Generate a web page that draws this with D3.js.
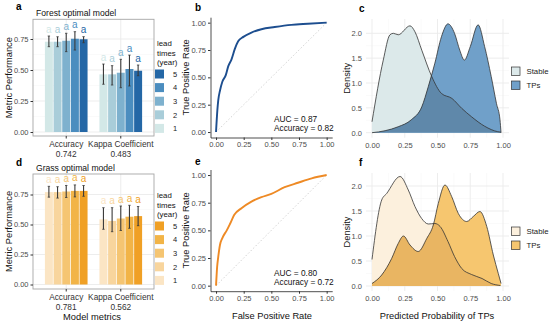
<!DOCTYPE html>
<html>
<head>
<meta charset="utf-8">
<script src="https://cdn.jsdelivr.net/npm/d3@7"></script>
<style>
  body { margin: 0; background: #fff; }
  text { font-family: "Liberation Sans", Arial, sans-serif; }
</style>
</head>
<body>
<div id="chart"></div>
<script>
// ---- data ----
var metrics = ["Accuracy", "Kappa Coefficient"];
var leadTimes = ["1", "2", "3", "4", "5"];

var forestAccMean = [0.728, 0.728, 0.736, 0.752, 0.748];
var forestAccLow = [0.688, 0.688, 0.648, 0.661, 0.720];
var forestAccHigh = [0.774, 0.768, 0.796, 0.809, 0.769];
var forestKappaMean = [0.465, 0.465, 0.478, 0.508, 0.494];
var forestKappaLow = [0.385, 0.379, 0.357, 0.371, 0.454];
var forestKappaHigh = [0.548, 0.535, 0.586, 0.620, 0.540];
var forestOverall = ["0.742", "0.483"];

var grassAccMean = [0.770, 0.770, 0.775, 0.780, 0.780];
var grassAccLow = [0.728, 0.720, 0.725, 0.730, 0.735];
var grassAccHigh = [0.818, 0.815, 0.825, 0.830, 0.825];
var grassKappaMean = [0.543, 0.530, 0.550, 0.565, 0.570];
var grassKappaLow = [0.460, 0.440, 0.450, 0.468, 0.490];
var grassKappaHigh = [0.640, 0.640, 0.654, 0.660, 0.650];
var grassOverall = ["0.781", "0.562"];

var groupLetters = ["a", "a", "a", "a", "a"];

var rocForestFpr = [0, 0.012, 0.02, 0.036, 0.057, 0.088, 0.11, 0.14, 0.17, 0.20, 0.247, 0.32, 0.41, 0.53, 0.68, 0.83, 1.0];
var rocForestTpr = [0, 0.20, 0.29, 0.38, 0.46, 0.52, 0.60, 0.665, 0.76, 0.83, 0.87, 0.91, 0.94, 0.96, 0.98, 0.99, 1.0];
var rocGrassFpr = [0, 0.01, 0.02, 0.036, 0.057, 0.097, 0.127, 0.165, 0.23, 0.32, 0.41, 0.50, 0.62, 0.74, 0.865, 1.0];
var rocGrassTpr = [0, 0.17, 0.26, 0.37, 0.43, 0.50, 0.56, 0.64, 0.70, 0.76, 0.80, 0.83, 0.89, 0.93, 0.97, 1.0];

var forestStableX = [0.0, 0.086, 0.137, 0.163, 0.20, 0.29, 0.328, 0.38, 0.456, 0.53, 0.61, 0.685, 0.76, 0.86, 0.96, 0.985];
var forestStableY = [0.22, 1.46, 1.97, 2.0, 1.97, 2.15, 2.03, 1.66, 1.13, 0.79, 0.69, 0.49, 0.32, 0.13, 0.02, 0.01];
var forestTpX = [0.0, 0.10, 0.20, 0.30, 0.38, 0.43, 0.48, 0.53, 0.58, 0.63, 0.67, 0.705, 0.75, 0.81, 0.86, 0.91, 0.95, 0.977, 0.985];
var forestTpY = [0.0, 0.04, 0.12, 0.26, 0.52, 0.93, 1.40, 1.93, 2.19, 2.0, 1.66, 1.46, 1.73, 2.17, 1.73, 1.13, 0.59, 0.26, 0.0];

var grassStableX = [0.0, 0.074, 0.112, 0.214, 0.277, 0.328, 0.379, 0.43, 0.48, 0.52, 0.58, 0.63, 0.685, 0.76, 0.84, 0.91, 0.98];
var grassStableY = [0.53, 1.72, 1.85, 2.19, 1.92, 1.59, 1.35, 1.24, 1.25, 1.19, 0.89, 0.59, 0.35, 0.23, 0.15, 0.05, 0.01];
var grassTpX = [0.0, 0.074, 0.15, 0.20, 0.24, 0.29, 0.353, 0.418, 0.468, 0.506, 0.557, 0.608, 0.659, 0.723, 0.773, 0.824, 0.876, 0.926, 0.964, 0.985];
var grassTpY = [0.05, 0.22, 0.55, 0.85, 1.0, 0.82, 0.69, 0.95, 1.22, 1.65, 2.02, 1.79, 1.45, 1.29, 1.39, 1.49, 1.19, 0.62, 0.25, 0.05];

var unitTicks = [0, 0.25, 0.5, 0.75, 1];
var densityTicks = [0, 0.5, 1, 1.5, 2];

var forestColors = ["#d3e8e7", "#a9cdd9", "#7eb1ce", "#4b8dbf", "#2467a6"];
var grassColors = ["#fbe5c4", "#f8d59d", "#f5c572", "#f2b447", "#f0a025"];

// ---- drawing ----
var svg = d3.select("#chart").append("svg")
    .attr("width", 550)
    .attr("height", 325);

var tickColor = "#4d4d4d";
var gridMajor = "#ebebeb";
var gridMinor = "#f4f4f4";

function panelLetter(x, y, s) {
  svg.append("text").attr("x", x).attr("y", y)
    .attr("font-size", 10).attr("font-weight", "bold").text(s);
}

function barPanel(o) {
  var g = svg.append("g");
  var x = d3.scaleBand().domain(metrics).range([o.left, o.right])
      .paddingInner(0.218).paddingOuter(0.218);
  var xs = d3.scaleBand().domain(leadTimes).range([0, x.bandwidth()]).paddingInner(0.08);
  var y = d3.scaleLinear().domain([0, 0.75]).range([o.y0, o.y75]);

  // grid
  [0.125, 0.375, 0.625].forEach(function (v) {
    g.append("line").attr("x1", o.left).attr("x2", o.right)
      .attr("y1", y(v)).attr("y2", y(v)).attr("stroke", gridMinor).attr("stroke-width", 0.5);
  });
  [0, 0.25, 0.5, 0.75].forEach(function (v) {
    g.append("line").attr("x1", o.left).attr("x2", o.right)
      .attr("y1", y(v)).attr("y2", y(v)).attr("stroke", gridMajor).attr("stroke-width", 0.9);
  });
  metrics.forEach(function (m) {
    var cx = x(m) + x.bandwidth() / 2;
    g.append("line").attr("x1", cx).attr("x2", cx)
      .attr("y1", o.top).attr("y2", o.bottom).attr("stroke", gridMajor).attr("stroke-width", 0.9);
  });

  var rows = [];
  metrics.forEach(function (m, mi) {
    leadTimes.forEach(function (lt, i) {
      rows.push({m: m, lt: lt, i: i, mean: o.mean[mi][i], low: o.low[mi][i], high: o.high[mi][i]});
    });
  });

  g.selectAll(".bar").data(rows).enter().append("rect")
    .attr("x", function (d) { return x(d.m) + xs(d.lt); })
    .attr("width", xs.bandwidth())
    .attr("y", function (d) { return y(d.mean); })
    .attr("height", function (d) { return y(0) - y(d.mean); })
    .attr("fill", function (d) { return o.colors[d.i]; });

  g.selectAll(".err").data(rows).enter().append("line")
    .attr("x1", function (d) { return x(d.m) + xs(d.lt) + xs.bandwidth() / 2; })
    .attr("x2", function (d) { return x(d.m) + xs(d.lt) + xs.bandwidth() / 2; })
    .attr("y1", function (d) { return y(d.low); })
    .attr("y2", function (d) { return y(d.high); })
    .attr("stroke", "#3a3a3a").attr("stroke-width", 1.1);

  g.selectAll(".cap").data(rows).enter().append("path")
    .attr("d", function (d) {
      var cx = x(d.m) + xs(d.lt) + xs.bandwidth() / 2;
      return "M" + (cx - 1.2) + "," + y(d.low) + "h2.4M" + (cx - 1.2) + "," + y(d.high) + "h2.4";
    })
    .attr("stroke", "#3a3a3a").attr("stroke-width", 0.8);

  g.selectAll(".lett").data(rows).enter().append("text")
    .attr("x", function (d) { return x(d.m) + xs(d.lt) + xs.bandwidth() / 2; })
    .attr("y", function (d) { return y(d.high) - 3.5; })
    .attr("text-anchor", "middle").attr("font-size", 10)
    .attr("fill", function (d) { return o.colors[d.i]; })
    .text(function (d) { return groupLetters[d.i]; });

  // panel border
  g.append("rect").attr("x", o.left).attr("y", o.top)
    .attr("width", o.right - o.left).attr("height", o.bottom - o.top)
    .attr("fill", "none").attr("stroke", "#a6a6a6").attr("stroke-width", 0.9);

  // y axis
  var ya = g.append("g").attr("transform", "translate(" + o.left + ",0)")
    .call(d3.axisLeft(y).tickValues([0, 0.25, 0.5, 0.75]).tickFormat(d3.format(".2f"))
      .tickSize(2.5).tickPadding(2));
  ya.select(".domain").remove();
  ya.selectAll("line").attr("stroke", "#333");
  ya.selectAll("text").attr("fill", tickColor).attr("font-size", 7.5)
    .style("font-family", '"Liberation Sans", Arial, sans-serif');

  // x axis
  var xa = g.append("g").attr("transform", "translate(0," + o.bottom + ")")
    .call(d3.axisBottom(x).tickSize(2.5).tickPadding(2));
  xa.select(".domain").remove();
  xa.selectAll("line").attr("stroke", "#333");
  xa.selectAll("text").remove();
  metrics.forEach(function (m, mi) {
    var cx = x(m) + x.bandwidth() / 2;
    g.append("text").attr("x", cx).attr("y", o.bottom + 10.7).attr("text-anchor", "middle")
      .attr("font-size", 8.3).attr("fill", "#333").text(m);
    g.append("text").attr("x", cx).attr("y", o.bottom + 20.5).attr("text-anchor", "middle")
      .attr("font-size", 8.3).attr("fill", "#333").text(o.overall[mi]);
  });

  // titles
  g.append("text").attr("x", o.left + 3).attr("y", o.top - 3).attr("font-size", 8.6)
    .attr("fill", "#111").text(o.title);
  g.append("text").attr("transform", "translate(" + 11.5 + "," + ((o.top + o.bottom) / 2) + ") rotate(-90)")
    .attr("text-anchor", "middle").attr("font-size", 9.3).attr("fill", "#111").text("Metric Performance");

  // legend
  var lg = g.append("g").attr("transform", "translate(155," + o.legendTop + ")");
  ["lead", "times", "(year)"].forEach(function (s, i) {
    lg.append("text").attr("x", 2).attr("y", i * 9.6).attr("font-size", 7.8).attr("fill", "#111").text(s);
  });
  leadTimes.slice().reverse().forEach(function (lt, i) {
    var ci = leadTimes.indexOf(lt);
    lg.append("rect").attr("x", 0).attr("y", 23.5 + i * 13.6)
      .attr("width", 9).attr("height", 9).attr("fill", o.colors[ci]);
    lg.append("text").attr("x", 18).attr("y", 23.5 + i * 13.6 + 7.3)
      .attr("font-size", 7.5).attr("fill", "#222").text(lt);
  });
}

function rocPanel(o) {
  var g = svg.append("g");
  var x = d3.scaleLinear().domain([-0.05, 1.05]).range([210.5, 332.2]);
  var y = d3.scaleLinear().domain([-0.05, 1.05]).range([o.bottom, o.top]);

  g.append("line").attr("x1", x(0)).attr("y1", y(0)).attr("x2", x(1)).attr("y2", y(1))
    .attr("stroke", "#c8c8c8").attr("stroke-width", 0.8).attr("stroke-dasharray", "1.5,2");

  var pts = o.fpr.map(function (f, i) { return [f, o.tpr[i]]; });
  g.append("path").datum(pts)
    .attr("d", d3.line().x(function (d) { return x(d[0]); }).y(function (d) { return y(d[1]); })
      .curve(d3.curveMonotoneX))
    .attr("fill", "none").attr("stroke", o.color).attr("stroke-width", 1.9);

  var xa = g.append("g").attr("transform", "translate(0," + o.bottom + ")")
    .call(d3.axisBottom(x).tickValues(unitTicks).tickFormat(d3.format(".2f")).tickSize(2.5).tickSizeOuter(0).tickPadding(2));
  var ya = g.append("g").attr("transform", "translate(210.5,0)")
    .call(d3.axisLeft(y).tickValues(unitTicks).tickFormat(d3.format(".2f")).tickSize(2.5).tickSizeOuter(0).tickPadding(2));
  [xa, ya].forEach(function (a) {
    a.select(".domain").attr("stroke", "#222").attr("stroke-width", 0.8);
    a.selectAll("line").attr("stroke", "#333");
    a.selectAll("text").attr("fill", tickColor).attr("font-size", 7.5)
      .style("font-family", '"Liberation Sans", Arial, sans-serif');
  });

  g.append("text").attr("transform", "translate(189," + ((o.top + o.bottom) / 2) + ") rotate(-90)")
    .attr("text-anchor", "middle").attr("font-size", 9.3).attr("fill", "#111").text("True Positive Rate");
  g.append("text").attr("x", 274).attr("y", y(0.09)).attr("font-size", 8.3).attr("fill", "#111").text(o.auc);
  g.append("text").attr("x", 274).attr("y", y(0.01)).attr("font-size", 8.3).attr("fill", "#111").text(o.acc);
  if (o.xTitle) {
    g.append("text").attr("x", 272).attr("y", 318.5).attr("text-anchor", "middle")
      .attr("font-size", 9.3).attr("fill", "#111").text("False Positive Rate");
  }
}

var densityId = 0;
function densityPanel(o) {
  var g = svg.append("g");
  var left = 366, right = 509;
  var x = d3.scaleLinear().domain([0, 1]).range([372, 503]);
  var y = d3.scaleLinear().domain([0, 2]).range([o.y0, o.y2]);

  [0.125, 0.375, 0.625, 0.875].forEach(function (v) {
    g.append("line").attr("x1", x(v)).attr("x2", x(v)).attr("y1", o.top).attr("y2", o.bottom)
      .attr("stroke", gridMinor).attr("stroke-width", 0.5);
  });
  [0.25, 0.75, 1.25, 1.75].forEach(function (v) {
    g.append("line").attr("x1", left).attr("x2", right).attr("y1", y(v)).attr("y2", y(v))
      .attr("stroke", gridMinor).attr("stroke-width", 0.5);
  });
  unitTicks.forEach(function (v) {
    g.append("line").attr("x1", x(v)).attr("x2", x(v)).attr("y1", o.top).attr("y2", o.bottom)
      .attr("stroke", gridMajor).attr("stroke-width", 0.9);
  });
  densityTicks.forEach(function (v) {
    g.append("line").attr("x1", left).attr("x2", right).attr("y1", y(v)).attr("y2", y(v))
      .attr("stroke", gridMajor).attr("stroke-width", 0.9);
  });

  var stable = o.sx.map(function (v, i) { return [v, o.sy[i]]; });
  var tps = o.tx.map(function (v, i) { return [v, o.ty[i]]; });
  var area = d3.area().x(function (d) { return x(d[0]); }).y0(y(0)).y1(function (d) { return y(d[1]); })
    .curve(d3.curveMonotoneX);
  var line = d3.line().x(function (d) { return x(d[0]); }).y(function (d) { return y(d[1]); })
    .curve(d3.curveMonotoneX);

  var clipId = "clipStable" + (densityId++);
  svg.append("clipPath").attr("id", clipId).append("path").attr("d", area(stable));

  g.append("path").attr("d", area(stable)).attr("fill", o.stableFill);
  g.append("path").attr("d", area(tps)).attr("fill", o.tpFill);
  g.append("path").attr("d", area(tps)).attr("fill", o.overlapFill).attr("clip-path", "url(#" + clipId + ")");
  g.append("path").attr("d", line(stable)).attr("fill", "none").attr("stroke", "#333").attr("stroke-width", 0.8);
  g.append("path").attr("d", line(tps)).attr("fill", "none").attr("stroke", "#333").attr("stroke-width", 0.8);

  var xa = g.append("g").attr("transform", "translate(0," + o.bottom + ")")
    .call(d3.axisBottom(x).tickValues(unitTicks).tickFormat(d3.format(".2f")).tickSize(0).tickPadding(5));
  var ya = g.append("g").attr("transform", "translate(" + left + ",0)")
    .call(d3.axisLeft(y).tickValues(densityTicks).tickFormat(d3.format(".1f")).tickSize(0).tickPadding(4));
  [xa, ya].forEach(function (a) {
    a.select(".domain").remove();
    a.selectAll("text").attr("fill", tickColor).attr("font-size", 7.5)
      .style("font-family", '"Liberation Sans", Arial, sans-serif');
  });

  g.append("text").attr("transform", "translate(350," + ((o.top + o.bottom) / 2) + ") rotate(-90)")
    .attr("text-anchor", "middle").attr("font-size", 9.3).attr("fill", "#111").text("Density");
  if (o.xTitle) {
    g.append("text").attr("x", 437).attr("y", 318.5).attr("text-anchor", "middle")
      .attr("font-size", 9.3).attr("fill", "#111").text("Predicted Probability of TPs");
  }

  var lg = g.append("g").attr("transform", "translate(511.5," + o.legendTop + ")");
  [["Stable", o.stableFill], ["TPs", o.tpFill]].forEach(function (k, i) {
    lg.append("rect").attr("x", 0).attr("y", i * 14).attr("width", 8.5).attr("height", 8.5)
      .attr("fill", k[1]).attr("stroke", "#333").attr("stroke-width", 0.7);
    lg.append("text").attr("x", 15).attr("y", i * 14 + 7).attr("font-size", 7.8).attr("fill", "#222").text(k[0]);
  });
}

barPanel({
  left: 33, right: 154, top: 19.3, bottom: 136, y0: 132, y75: 39,
  mean: [forestAccMean, forestKappaMean], low: [forestAccLow, forestKappaLow], high: [forestAccHigh, forestKappaHigh],
  overall: forestOverall, colors: forestColors, title: "Forest optimal model", legendTop: 46
});
barPanel({
  left: 33, right: 154, top: 174, bottom: 289, y0: 284.5, y75: 194.5,
  mean: [grassAccMean, grassKappaMean], low: [grassAccLow, grassKappaLow], high: [grassAccHigh, grassKappaHigh],
  overall: grassOverall, colors: grassColors, title: "Grass optimal model", legendTop: 198
});
svg.append("text").attr("x", 92).attr("y", 319.5).attr("text-anchor", "middle")
  .attr("font-size", 9.3).attr("fill", "#111").text("Model metrics");

rocPanel({ top: 17.2, bottom: 137.5, fpr: rocForestFpr, tpr: rocForestTpr, color: "#1d4e8f",
  auc: "AUC = 0.87", acc: "Accuracy = 0.82" });
rocPanel({ top: 169.5, bottom: 291.2, fpr: rocGrassFpr, tpr: rocGrassTpr, color: "#ee8a25",
  auc: "AUC = 0.80", acc: "Accuracy = 0.72", xTitle: true });

densityPanel({ top: 19, bottom: 137.7, y0: 132.7, y2: 33.3,
  sx: forestStableX, sy: forestStableY, tx: forestTpX, ty: forestTpY,
  stableFill: "#dce9ea", tpFill: "#70a0c9", overlapFill: "#5f88aa", legendTop: 67 });
densityPanel({ top: 173, bottom: 291, y0: 286, y2: 186,
  sx: grassStableX, sy: grassStableY, tx: grassTpX, ty: grassTpY,
  stableFill: "#fcf0dd", tpFill: "#f6c66f", overlapFill: "#e9b562", legendTop: 227, xTitle: true });

panelLetter(16, 10, "a");
panelLetter(195, 11, "b");
panelLetter(359, 12, "c");
panelLetter(16, 166, "d");
panelLetter(195, 165, "e");
panelLetter(359, 166, "f");
</script>
</body>
</html>
